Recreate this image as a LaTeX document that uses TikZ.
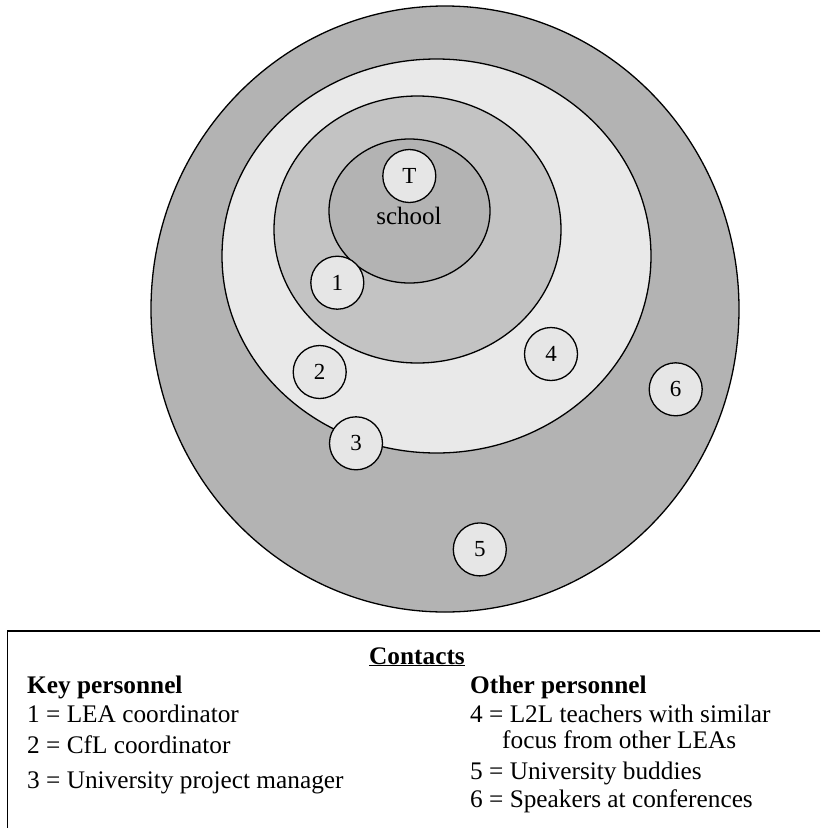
\documentclass[tikz,border=0pt]{standalone}
\usepackage{fontspec}
\setmainfont{Liberation Serif}
\usetikzlibrary{shapes.geometric}
\definecolor{outerfill}{RGB}{179,179,179}
\definecolor{lightfill}{RGB}{233,233,233}
\definecolor{midfill}{RGB}{195,195,195}
\definecolor{innerfill}{RGB}{179,179,179}
\definecolor{smallfill}{RGB}{230,230,230}
\tikzset{
  ring/.style={ellipse, draw=black, line width=1.3pt, inner sep=0pt},
  person/.style={circle, draw=black, line width=1.3pt, fill=smallfill, minimum size=53pt, inner sep=0pt, font=\fontsize{23}{25}\selectfont},
  legend/.style={anchor=base west, inner sep=0pt, font=\fontsize{25.3}{27}\selectfont},
  legendhead/.style={anchor=base west, inner sep=0pt, font=\fontsize{25.3}{27}\selectfont\bfseries}
}
\begin{document}
\begin{tikzpicture}[x=1pt,y=-1pt]
\useasboundingbox (0,0) rectangle (820,828);
\fill[white] (0,0) rectangle (820,828);
% rings
\node[ring, fill=outerfill, minimum width=588pt, minimum height=606pt] (outer) at (445,309) {};
\node[ring, fill=lightfill, minimum width=429pt, minimum height=394pt] (light) at (436.5,256) {};
\node[ring, fill=midfill, minimum width=287pt, minimum height=267pt] (mid) at (417.5,229.5) {};
\node[ring, fill=innerfill, minimum width=161pt, minimum height=144pt] (inner) at (409.5,211) {};
\node[inner sep=0pt, font=\fontsize{25}{27}\selectfont] (school) at (409,216) {school};
% persons
\node[person] (T) at (409.3,176) {T};
\node[person] (p1) at (337.3,282.7) {1};
\node[person] (p2) at (319.7,372) {2};
\node[person] (p3) at (356,443.3) {3};
\node[person] (p4) at (551,354) {4};
\node[person] (p5) at (479.8,549.4) {5};
\node[person] (p6) at (675.7,389.3) {6};
% legend box
\coordinate (bTR) at (820,631);
\coordinate (bTL) at (7.5,631);
\coordinate (bBL) at (7.5,828);
\draw[line width=1.6pt] (bTR) -- (bTL) -- (bBL);
\node[anchor=base, inner sep=0pt, font=\fontsize{25.3}{27}\selectfont\bfseries] (contacts) at (417,664) {\underline{Contacts}};
\node[legendhead] (key) at (27,693) {Key personnel};
\node[legend] (l1) at (27,722) {1 = LEA coordinator};
\node[legend] (l2) at (27,753) {2 = CfL coordinator};
\node[legend] (l3) at (27,788) {3 = University project manager};
\node[legendhead] (other) at (470,693) {Other personnel};
\node[legend] (l4) at (470,722) {4 = L2L teachers with similar};
\node[legend] (l4b) at (502,748) {focus from other LEAs};
\node[legend] (l5) at (470,779) {5 = University buddies};
\node[legend] (l6) at (470,807) {6 = Speakers at conferences};
\end{tikzpicture}
\end{document}
